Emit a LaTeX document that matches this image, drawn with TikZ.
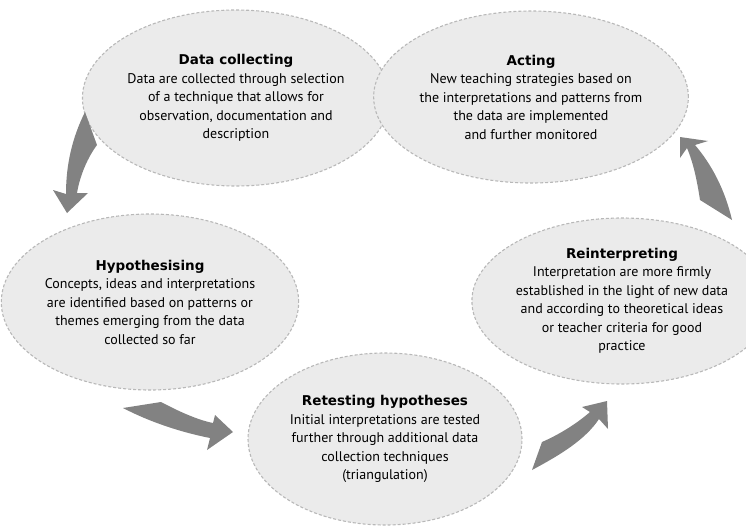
\documentclass[tikz,border=0pt]{standalone}
\usepackage{fontspec}
\setmainfont{PT Sans}
\newfontfamily\stagetitlefont{DejaVu Sans}
\usetikzlibrary{shapes.geometric}

\definecolor{stagefill}{HTML}{EBEBEB}
\definecolor{stageline}{HTML}{B8B8B8}
\definecolor{arrowgray}{HTML}{828282}

\newcommand{\stagetitle}[1]{{\stagetitlefont\bfseries\fontsize{13.5}{18.5}\selectfont #1}}

\tikzset{
  stage/.style={ellipse, draw=stageline, fill=stagefill, line width=1.1pt,
    dash pattern=on 3pt off 2pt, inner sep=0pt, align=center,
    font=\fontsize{14}{18.5}\selectfont},
  bigarrow/.style={fill=arrowgray},
}

\begin{document}
\begin{tikzpicture}[x=1pt,y=-1pt]
\useasboundingbox (0,0) rectangle (746,528);
% stages
\node[stage, minimum width=278, minimum height=176] (collect) at (236,98)
  {\stagetitle{Data collecting}\\Data are collected through selection\\of a technique that allows for\\observation, documentation and\\description};
\node[stage, minimum width=272, minimum height=172] (act) at (531,97)
  {\stagetitle{Acting}\\New teaching strategies based on\\the interpretations and patterns from\\the data are implemented\\and further monitored};
\node[stage, minimum width=290, minimum height=176] (hypo) at (150,302)
  {\stagetitle{Hypothesising}\\Concepts, ideas and interpretations\\are identified based on patterns or\\themes emerging from the data\\collected so far};
\node[stage, minimum width=280, minimum height=166] (reinterp) at (622,301)
  {\stagetitle{Reinterpreting}\\Interpretation are more firmly\\established in the light of new data\\and according to theoretical ideas\\or teacher criteria for good\\practice};
\node[stage, minimum width=274, minimum height=172] (retest) at (385,439)
  {\stagetitle{Retesting hypotheses}\\Initial interpretations are tested\\further through additional data\\collection techniques\\(triangulation)};
% arrows
\fill[bigarrow] (85,112) -- (97,145) .. controls (88,157) and (80,175) .. (77,193)
  -- (88,193) -- (67,213) -- (53,190) -- (66,194)
  .. controls (66,165) and (72,138) .. (85,112) -- cycle;
\fill[bigarrow] (123,408) -- (161,402) .. controls (180,412) and (198,420) .. (213,423)
  -- (215,415) -- (233,432) -- (207,450) -- (210,438)
  .. controls (180,432) and (150,422) .. (123,408) -- cycle;
\fill[bigarrow] (532,470) -- (542,442) .. controls (558,435) and (575,425) .. (590,412)
  -- (582,407) -- (607,401) -- (608,429) -- (599,419)
  .. controls (585,440) and (560,455) .. (532,470) -- cycle;
\fill[bigarrow] (732,220) -- (700,200) .. controls (697,180) and (693,162) .. (687,148)
  -- (680,158) -- (680,137) -- (708,141) -- (695,145)
  .. controls (712,165) and (725,190) .. (732,220) -- cycle;
\end{tikzpicture}
\end{document}
